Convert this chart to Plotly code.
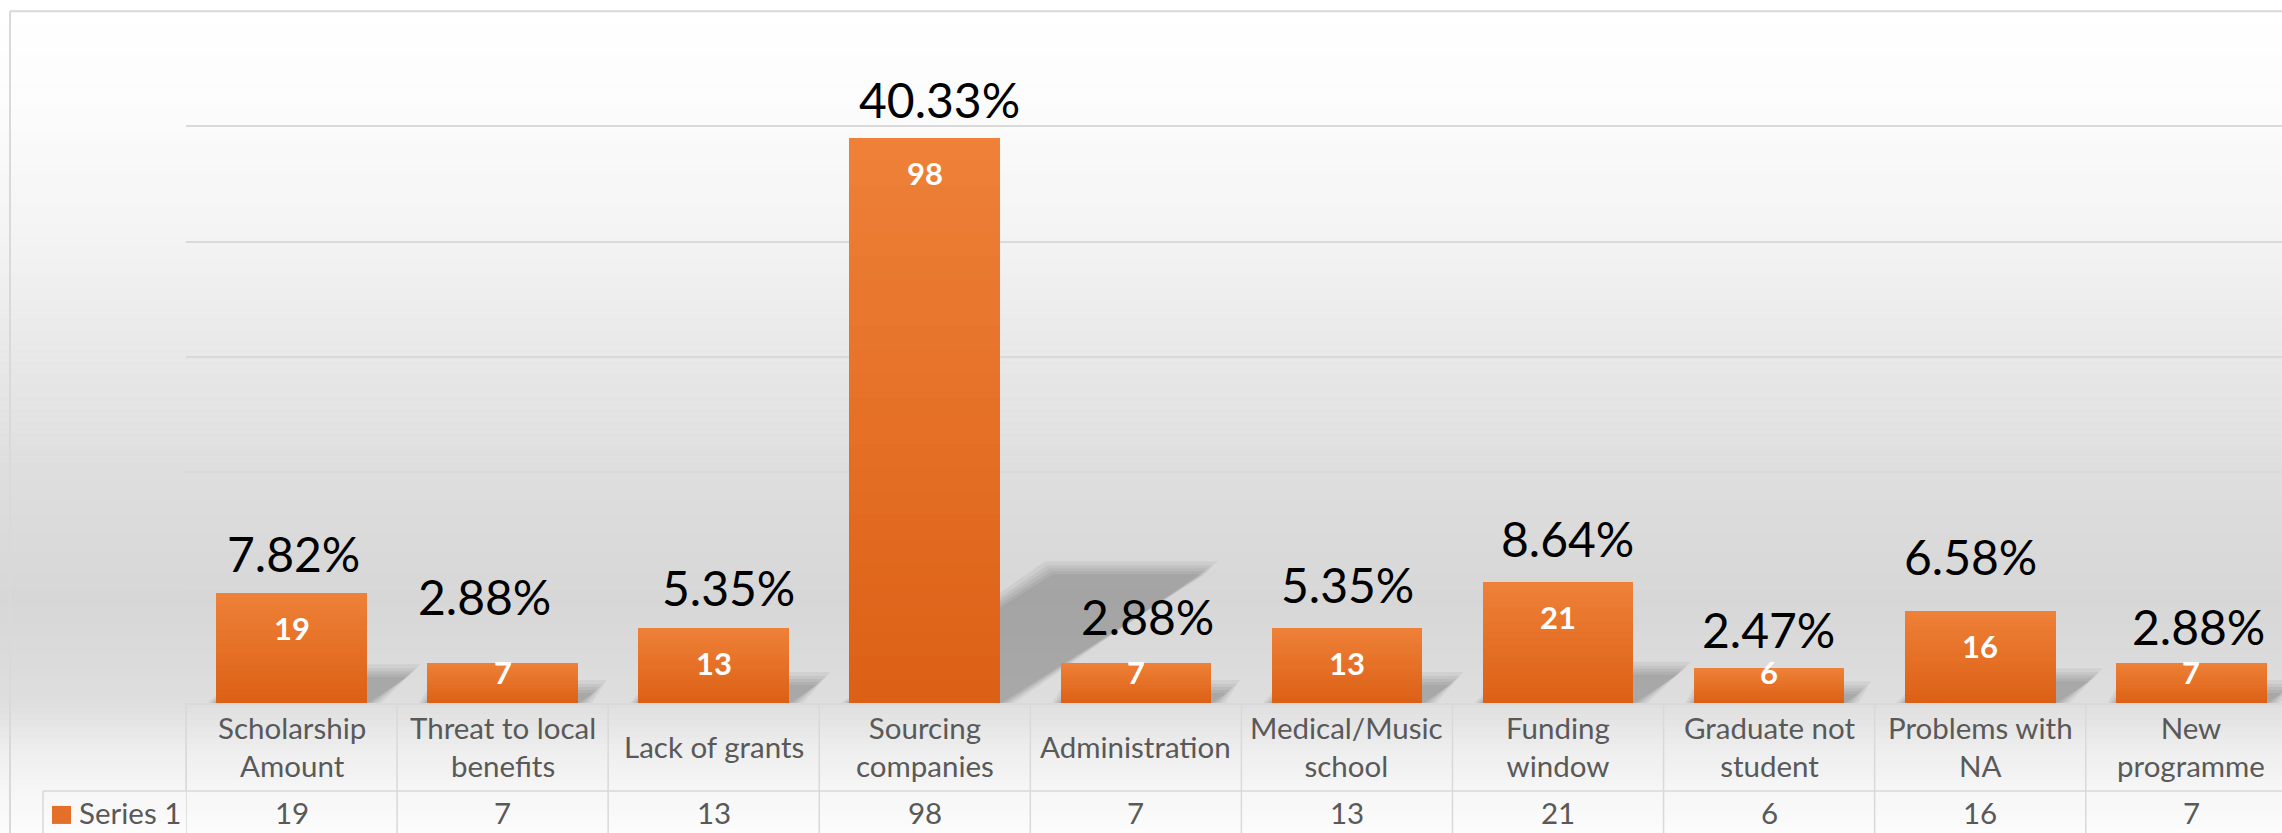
import numpy as np
import plotly.graph_objects as go

# Data
categories = ["Scholarship Amount", "Threat to local benefits", "Lack of grants",
              "Sourcing companies", "Administration", "Medical/Music school",
              "Funding window", "Graduate not student", "Problems with NA", "New programme"]
category_lines = ["Scholarship<br>Amount", "Threat to local<br>benefits", "Lack of grants",
                  "Sourcing<br>companies", "Administration", "Medical/Music<br>school",
                  "Funding<br>window", "Graduate not<br>student", "Problems with<br>NA",
                  "New<br>programme"]
counts = [19, 7, 13, 98, 7, 13, 21, 6, 16, 7]
pct_labels = ["7.82%", "2.88%", "5.35%", "40.33%", "2.88%", "5.35%", "8.64%", "2.47%", "6.58%", "2.88%"]
series_name = "Series 1"

# Layout (pixels of the 2282x833 page)
W, H = 2282, 833
PLOT_L, AXIS_Y = 186, 703
COL_W = 211.08
BAR_W = 0.714
PPU = 5.77                               # pixels per value unit
Y_TOP = 100.4                            # a little headroom so the 100 gridline shows
PLOT_T = AXIS_Y - Y_TOP * PPU
FONT = "Lato, 'Open Sans', sans-serif"
GREY_TXT = "#595959"
LINE = "#D9D9D9"
ORANGE_TOP = (238, 128, 55)
ORANGE_BOT = (220, 97, 22)

# hand nudges of the percentage text boxes (px)
pct_dx = [2, -18, 15, 15, 12, 1, 9, -1, -10, 7]
pct_dy = [40, 66, 41, 38, 46, 44, 43, 39, 54, 36]


def px_x(px):
    return (px - PLOT_L) / (W - PLOT_L)


def px_y(py):
    return (AXIS_Y - py) / (AXIS_Y - PLOT_T)


def mix(a, b, t):
    return "rgb(%d,%d,%d)" % tuple(round(a[k] + (b[k] - a[k]) * t) for k in range(3))


xpos = np.arange(len(categories))
fig = go.Figure()

# bars, with a stepped vertical gradient (light top -> dark bottom)
steps = 24
for j in range(steps):
    frac = (steps - j) / steps
    fig.add_trace(go.Bar(x=xpos, y=[c * frac for c in counts], width=BAR_W,
                         marker=dict(color=mix(ORANGE_TOP, ORANGE_BOT, j / (steps - 1)), line_width=0),
                         name=series_name, showlegend=False, hoverinfo="skip" if j else "y"))

shapes = []

# chart-area background gradient
stops = [(0, 255), (11, 255), (125, 251), (241, 243), (356, 232), (470, 222), (600, 215),
         (703, 222), (750, 238), (790, 246), (833, 252)]
sy = [s[0] for s in stops]
sg = [s[1] for s in stops]
band = 6
for y0 in range(0, H, band):
    g = round(np.interp(y0 + band / 2, sy, sg))
    shapes.append(dict(type="rect", xref="paper", yref="paper", layer="below",
                       x0=px_x(0), x1=px_x(W), y0=px_y(y0 + band + 0.5), y1=px_y(y0),
                       fillcolor="rgb(%d,%d,%d)" % (g, g, g), line_width=0))

# soft perspective shadows behind the bars
SH_K, SH_S = 0.226, 0.00987
for i, v in enumerate(counts):
    for grow in [14, 10, 7, 4, 1]:
        gx, gy = grow / COL_W, grow / PPU
        xl, xr = i - BAR_W / 2 - gx * 0.6, i + BAR_W / 2 + gx
        top, dx = SH_K * v + gy, SH_S * v
        path = f"M {xl},0 L {xr},0 L {xr + dx},{top} L {xl + dx},{top} Z"
        shapes.append(dict(type="path", xref="x", yref="y", layer="between", path=path,
                           fillcolor="rgba(0,0,0,0.05)", line_width=0))

# chart border
shapes.append(dict(type="line", xref="paper", yref="paper", x0=px_x(10), x1=px_x(W + 5),
                   y0=px_y(11), y1=px_y(11), line=dict(color=LINE, width=2)))
shapes.append(dict(type="line", xref="paper", yref="paper", x0=px_x(10), x1=px_x(10),
                   y0=px_y(11), y1=px_y(H + 5), line=dict(color=LINE, width=2)))

# data table grid
for k in range(len(categories) + 1):
    shapes.append(dict(type="line", xref="x", yref="paper", x0=k - 0.5, x1=k - 0.5,
                       y0=px_y(AXIS_Y), y1=px_y(H + 5), line=dict(color=LINE, width=1.5)))
shapes.append(dict(type="line", xref="paper", yref="paper", x0=px_x(43), x1=px_x(W + 5),
                   y0=px_y(791), y1=px_y(791), line=dict(color=LINE, width=1.5)))
shapes.append(dict(type="line", xref="paper", yref="paper", x0=px_x(43), x1=px_x(43),
                   y0=px_y(791), y1=px_y(H + 5), line=dict(color=LINE, width=1.5)))
shapes.append(dict(type="line", xref="paper", yref="paper", x0=px_x(PLOT_L), x1=px_x(PLOT_L),
                   y0=px_y(AXIS_Y), y1=px_y(791), line=dict(color=LINE, width=1.5)))
# legend key
shapes.append(dict(type="rect", xref="paper", yref="paper", x0=px_x(52), x1=px_x(71),
                   y0=px_y(824), y1=px_y(806), fillcolor="#E46F28", line_width=0))

annotations = []
for i, v in enumerate(counts):
    # percentage labels above bars
    annotations.append(dict(x=i, y=v, xref="x", yref="y", text=pct_labels[i], showarrow=False,
                            yanchor="middle", xanchor="center", xshift=pct_dx[i], yshift=pct_dy[i],
                            font=dict(family=FONT, size=48, color="#000000")))
    # count labels inside bars (inside end, kept above the axis)
    inside_y = max(v - 35 / PPU, 31.5 / PPU)
    annotations.append(dict(x=i, y=inside_y, xref="x", yref="y", text=str(v), showarrow=False,
                            yanchor="middle", xanchor="center",
                            font=dict(family=FONT, size=31, color="#FFFFFF", weight="bold")))
    # data table: category row and value row
    annotations.append(dict(x=i, y=px_y(747), xref="x", yref="paper", text=category_lines[i],
                            showarrow=False, yanchor="middle", xanchor="center",
                            font=dict(family=FONT, size=29.5, color=GREY_TXT)))
    annotations.append(dict(x=i, y=px_y(813), xref="x", yref="paper", text=str(v),
                            showarrow=False, yanchor="middle", xanchor="center",
                            font=dict(family=FONT, size=29.5, color=GREY_TXT)))
annotations.append(dict(x=px_x(77), y=px_y(813), xref="paper", yref="paper", text=series_name,
                        showarrow=False, yanchor="middle", xanchor="left",
                        font=dict(family=FONT, size=29.5, color=GREY_TXT)))

fig.update_layout(
    width=W, height=H,
    margin=dict(l=PLOT_L, r=0, t=PLOT_T, b=H - AXIS_Y, pad=0),
    paper_bgcolor="white", plot_bgcolor="rgba(0,0,0,0)",
    barmode="overlay", bargap=0, showlegend=False,
    font=dict(family=FONT),
    xaxis=dict(range=[-0.5, -0.5 + (W - PLOT_L) / COL_W], showticklabels=False, showgrid=False,
               zeroline=False, showline=True, linecolor=LINE, linewidth=2, ticks="", fixedrange=True),
    yaxis=dict(range=[0, Y_TOP], tick0=0, dtick=20, showticklabels=False, showgrid=True,
               gridcolor=LINE, gridwidth=2, zeroline=False, showline=False, ticks="", fixedrange=True),
    shapes=shapes, annotations=annotations,
)

fig.write_html("out.html", config={"displayModeBar": False},
               post_script="document.body.style.margin='0px';document.body.style.overflow='hidden';")
